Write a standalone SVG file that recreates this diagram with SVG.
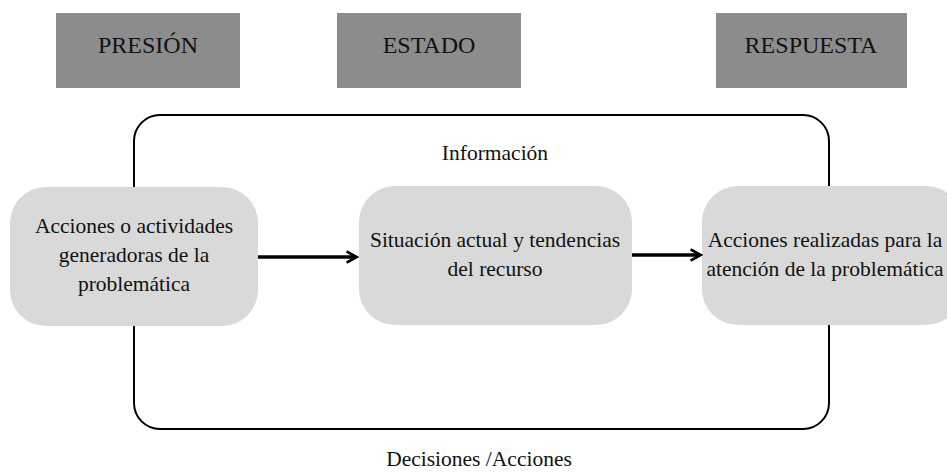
<svg xmlns="http://www.w3.org/2000/svg" width="947" height="472" viewBox="0 0 947 472">
<style>
text{font-family:"Liberation Serif","Times New Roman",serif;fill:#111;text-anchor:middle}
.hdr rect{fill:#8c8c8c}
.hdr text{font-size:24px}
.node rect{fill:#d9d9d9}
.node text{font-size:21.5px}
.lbl{font-size:21.5px}
.conn{stroke:#000;stroke-width:3.5;fill:none}
</style>
<defs>
<marker id="ah" viewBox="0 0 10 10" refX="7" refY="5" markerWidth="4" markerHeight="4" orient="auto" markerUnits="strokeWidth">
<path d="M1,1 L8,5 L1,9" fill="none" stroke="#000" stroke-width="2"/>
</marker>
</defs>
<rect width="947" height="472" fill="#fff"/>
<g id="presion" class="hdr"><rect x="56" y="13" width="184" height="75"/><text x="148" y="53">PRESIÓN</text></g>
<g id="estado" class="hdr"><rect x="337" y="13" width="184" height="75"/><text x="429" y="53">ESTADO</text></g>
<g id="respuesta" class="hdr"><rect x="716" y="13" width="191" height="75"/><text x="811" y="53">RESPUESTA</text></g>
<g id="loop"><rect x="134" y="115" width="695" height="314" rx="26" fill="none" stroke="#000" stroke-width="2"/></g>
<text class="lbl" x="495" y="160">Información</text>
<text class="lbl" x="479" y="466">Decisiones /Acciones</text>
<g id="presion-node" class="node"><rect x="10" y="187" width="248" height="139" rx="36"/>
<text x="134" y="233">Acciones o actividades</text><text x="134" y="262">generadoras de la</text><text x="134" y="291">problemática</text></g>
<g id="estado-node" class="node"><rect x="359" y="186" width="273" height="139" rx="36"/>
<text x="495" y="247">Situación actual y tendencias</text><text x="495" y="276">del recurso</text></g>
<g id="respuesta-node" class="node"><rect x="702" y="186" width="260" height="139" rx="36"/>
<text x="825" y="247">Acciones realizadas para la</text><text x="825" y="276">atención de la problemática</text></g>
<g id="connectors">
<line class="conn" x1="258" y1="257" x2="355" y2="257" marker-end="url(#ah)"/>
<line class="conn" x1="632" y1="255" x2="699" y2="255" marker-end="url(#ah)"/>
</g>
</svg>
